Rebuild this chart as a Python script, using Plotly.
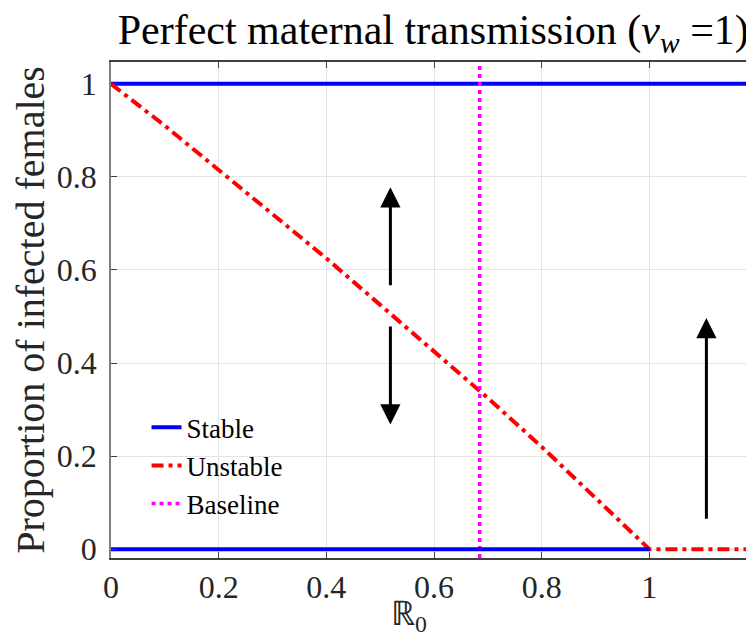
import plotly.graph_objects as go

# ---- data ----
stable_top_x = [0.0, 1.0, 1.2]
stable_top_y = [1.0, 1.0, 1.0]
stable_bot_x = [0.0, 1.0]
stable_bot_y = [0.0, 0.0]
unstable_x = [0.0, 0.1, 0.2, 0.3, 0.4, 0.5, 0.6, 0.7, 0.8, 0.9, 1.0, 1.2]
unstable_y = [1.0, 0.91, 0.815, 0.72, 0.625, 0.525, 0.425, 0.325, 0.22, 0.11, 0.0, 0.0]
baseline_r0 = 0.685
x_ticks = [0, 0.2, 0.4, 0.6, 0.8, 1]
x_tick_labels = ["0", "0.2", "0.4", "0.6", "0.8", "1"]
y_ticks = [0, 0.2, 0.4, 0.6, 0.8, 1]
y_tick_labels = ["0", "0.2", "0.4", "0.6", "0.8", "1"]
# arrows: (x, tail_y, tip_y)
arrows = [(0.519, 0.564, 0.778), (0.519, 0.482, 0.268), (1.106, 0.062, 0.497)]

x_range = [0, 1.2]
y_range = [-0.019, 1.047]

FONT = "Liberation Serif"
AX = "#404040"

fig = go.Figure()
fig.add_trace(go.Scatter(x=stable_top_x, y=stable_top_y, mode="lines", name="Stable",
                         line=dict(color="#0000ff", width=4), legendgroup="s"))
fig.add_trace(go.Scatter(x=unstable_x, y=unstable_y, mode="lines", name="Unstable",
                         line=dict(color="#ff0000", width=4, dash="12px,5px,4px,5px")))
fig.add_trace(go.Scatter(x=[baseline_r0, baseline_r0], y=y_range, mode="lines", name="Baseline",
                         line=dict(color="#ff00ff", width=3.5, dash="4px,4px")))
fig.add_trace(go.Scatter(x=stable_bot_x, y=stable_bot_y, mode="lines", name="Stable",
                         line=dict(color="#0000ff", width=4), showlegend=False, legendgroup="s"))

for ax_x, tail, tip in arrows:
    fig.add_annotation(x=ax_x, y=tip, ax=ax_x, ay=tail, xref="x", yref="y", axref="x", ayref="y",
                       showarrow=True, arrowhead=2, arrowsize=1.35, arrowwidth=3,
                       arrowcolor="black", text="")

fig.update_layout(
    width=754, height=640,
    margin=dict(l=103, r=5, t=54, b=90, autoexpand=False),
    paper_bgcolor="white", plot_bgcolor="white",
    font=dict(family=FONT, size=32, color="#262626"),
    title=dict(text="Perfect maternal transmission (<i>v<sub>w</sub></i> =1)",
               x=0.564, xanchor="center", y=0.99, yanchor="top",
               font=dict(family=FONT, size=42, color="black")),
    showlegend=True,
    legend=dict(x=0.055, y=0.312, xanchor="left", yanchor="top", bgcolor="rgba(0,0,0,0)",
                font=dict(family=FONT, size=27, color="black"), tracegroupgap=0),
    xaxis=dict(range=x_range, tickmode="array", tickvals=x_ticks, ticktext=x_tick_labels,
               showgrid=True, gridcolor="#e3e3e3", gridwidth=1, zeroline=False,
               showline=True, linecolor=AX, linewidth=1.5, mirror="ticks",
               ticks="inside", ticklen=6, tickcolor=AX, automargin=False,
               tickfont=dict(family=FONT, size=32, color="#262626")),
    yaxis=dict(range=y_range, tickmode="array", tickvals=y_ticks, ticktext=y_tick_labels,
               showgrid=True, gridcolor="#e3e3e3", gridwidth=1, zeroline=False,
               showline=True, linecolor="#808080", linewidth=1.5, automargin=False,
               mirror="ticks",
               ticks="inside", ticklen=6, tickcolor=AX, ticklabelstandoff=6,
               tickfont=dict(family=FONT, size=32, color="#262626"),
               title=dict(text="Proportion of infected females", standoff=12,
                          font=dict(family=FONT, size=40, color="#262626"))),
)
fig.add_annotation(text="ℝ<sub>0</sub>", xref="paper", yref="paper", x=0.462, y=-0.07,
                   xanchor="center", yanchor="top", showarrow=False,
                   font=dict(family=FONT, size=34, color="#262626"))

fig.write_html("out.html")
